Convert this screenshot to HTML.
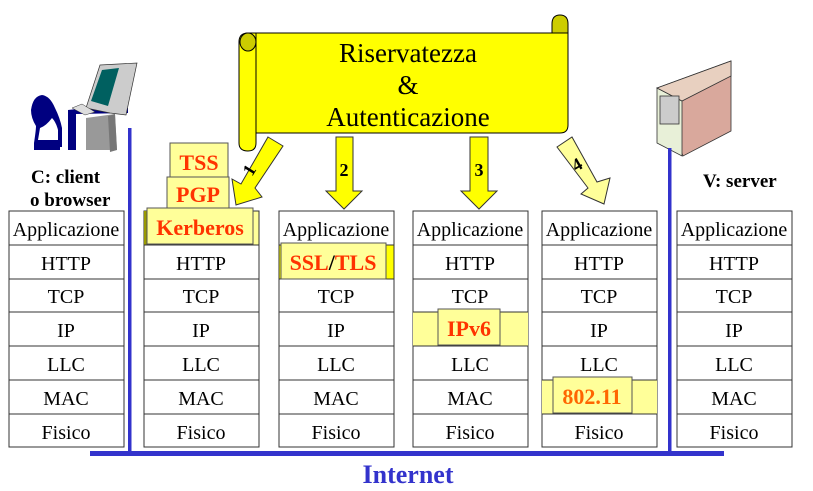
<!DOCTYPE html>
<html><head><meta charset="utf-8"><style>
html,body{margin:0;padding:0;background:#fff;}
svg{display:block;}
text{font-family:"Liberation Serif",serif;}
</style></head><body>
<svg width="813" height="491" viewBox="0 0 813 491" xmlns="http://www.w3.org/2000/svg">
<!-- scroll -->
<path d="M256,33 H568 V125 Q568,133 560,133 H256 Z" fill="#ffff00" stroke="#000" stroke-width="1"/>
<path d="M248,33 H256 V143 Q256,151 248,151 Q239,151 239,143 V42 Q239,33 248,33 Z" fill="#ffff00" stroke="#000" stroke-width="1"/>
<ellipse cx="248" cy="42" rx="8" ry="9" fill="#cccc00" stroke="#000" stroke-width="1"/>
<path d="M552,33 V24 Q552,15 560,15 Q568,15 568,24 V33 Z" fill="#cccc00" stroke="#000" stroke-width="1"/>
<text x="408" y="62" font-size="27" text-anchor="middle">Riservatezza</text>
<text x="408" y="94" font-size="27" text-anchor="middle">&amp;</text>
<text x="408" y="126" font-size="27" text-anchor="middle">Autenticazione</text>
<!-- arrows -->
<polygon points="268,137 283,146 255,188 262,197 236,205 232,179 241,184" fill="#ffff00" stroke="#333" stroke-width="1"/>
<text x="0" y="0" font-size="18" font-weight="bold" transform="translate(252,177) rotate(-58)">1</text>
<polygon points="336,137 353,137 353,191 362,191 344,209 326,191 336,191" fill="#ffff00" stroke="#333" stroke-width="1"/>
<text x="344" y="176" font-size="18" font-weight="bold" text-anchor="middle">2</text>
<polygon points="470,137 488,137 488,191 497,191 479,209 461,191 470,191" fill="#ffff00" stroke="#333" stroke-width="1"/>
<text x="479" y="176" font-size="18" font-weight="bold" text-anchor="middle">3</text>
<polygon points="557,147 572,137 597,182 610,178 604,204 581,194 588,188" fill="#ffff99" stroke="#333" stroke-width="1"/>
<text x="0" y="0" font-size="18" font-weight="bold" transform="translate(576,172) rotate(-30)">4</text>

<!-- client icon -->
<g>
<path d="M31,110 Q33,96 42,95 Q50,96 55,108 Q60,118 62,128 L62,147 L58,147 L58,130 Q56,122 52,118 Q46,126 40,128 L38,140 L60,140 L60,150 L34,150 L34,143 Q36,130 36,126 Q31,118 31,110 Z" fill="#000080"/>
<path d="M68,110 L95,107 L128,108 L128,113 L76,114 V150 H68 Z" fill="#000080"/>
<polygon points="86,118 115,114 117,150 86,150" fill="#999"/>
<polygon points="115,114 117,150 110,152 108,116" fill="#777"/>
<polygon points="100,65 137,63 126,115 110,113 86,108" fill="#ccc" stroke="#333" stroke-width="0.7"/>
<polygon points="102,70 119,68 108,106 91,101" fill="#006060"/>
<polygon points="72,108 82,104 95,112 85,115" fill="#ddd" stroke="#333" stroke-width="0.5"/>
</g>
<text x="31" y="183" font-size="19" font-weight="bold">C: client</text>
<text x="30" y="206" font-size="19" font-weight="bold">o browser</text>
<!-- server icon -->
<g stroke="#333" stroke-width="0.8">
<polygon points="657,88 731,61 731,131 683,156" fill="#d9a89c"/>
<polygon points="657,88 682,101 682,156 657,143" fill="#e8f0d8"/>
<polygon points="657,88 731,61 731,76 682,101" fill="#e8d0c0"/>
<rect x="660" y="96" width="19" height="28" fill="#ccc"/>
</g>
<text x="703" y="187" font-size="19" font-weight="bold">V: server</text>

<!-- network lines -->
<rect x="128" y="128" width="3.5" height="327" fill="#3333cc"/>
<rect x="668" y="148" width="3.5" height="307" fill="#3333cc"/>
<rect x="90" y="451" width="634" height="5" fill="#3333cc"/>
<text x="408" y="483" font-size="26" font-weight="bold" fill="#3333cc" text-anchor="middle">Internet</text>

<g fill="#fff" stroke="#333" stroke-width="1">
<rect x="9" y="211" width="115" height="236"/>
<rect x="144" y="211" width="115" height="236"/>
<rect x="279" y="211" width="115" height="236"/>
<rect x="413" y="211" width="115" height="236"/>
<rect x="542" y="211" width="115" height="236"/>
<rect x="677" y="211" width="115" height="236"/>
</g>
<!-- highlighted rows -->
<rect x="144" y="211" width="115" height="34" fill="#ffff99" stroke="#333"/>
<rect x="144" y="211" width="4" height="34" fill="#999900"/>
<rect x="279" y="245" width="115" height="34" fill="#ffff00" stroke="#333"/>
<rect x="413" y="312" width="115" height="34" fill="#ffff99"/>
<rect x="542" y="380" width="115" height="34" fill="#ffff99"/>
<g stroke="#333" stroke-width="1">
<path d="M9,245H124M9,279H124M9,312H124M9,346H124M9,380H124M9,414H124"/>
<path d="M144,245H259M144,279H259M144,312H259M144,346H259M144,380H259M144,414H259"/>
<path d="M279,245H394M279,279H394M279,312H394M279,346H394M279,380H394M279,414H394"/>
<path d="M413,245H528M413,279H528M413,312H528M413,346H528M413,380H528M413,414H528"/>
<path d="M542,245H657M542,279H657M542,312H657M542,346H657M542,380H657M542,414H657"/>
<path d="M677,245H792M677,279H792M677,312H792M677,346H792M677,380H792M677,414H792"/>
</g>
<g font-size="20" text-anchor="middle">
<text x="66" y="236">Applicazione</text><text x="66" y="270">HTTP</text><text x="66" y="303">TCP</text><text x="66" y="337">IP</text><text x="66" y="371">LLC</text><text x="66" y="405">MAC</text><text x="66" y="439">Fisico</text>
<text x="201" y="270">HTTP</text><text x="201" y="303">TCP</text><text x="201" y="337">IP</text><text x="201" y="371">LLC</text><text x="201" y="405">MAC</text><text x="201" y="439">Fisico</text>
<text x="336" y="236">Applicazione</text><text x="336" y="303">TCP</text><text x="336" y="337">IP</text><text x="336" y="371">LLC</text><text x="336" y="405">MAC</text><text x="336" y="439">Fisico</text>
<text x="470" y="236">Applicazione</text><text x="470" y="270">HTTP</text><text x="470" y="303">TCP</text><text x="470" y="371">LLC</text><text x="470" y="405">MAC</text><text x="470" y="439">Fisico</text>
<text x="599" y="236">Applicazione</text><text x="599" y="270">HTTP</text><text x="599" y="303">TCP</text><text x="599" y="337">IP</text><text x="599" y="371">LLC</text><text x="599" y="439">Fisico</text>
<text x="734" y="236">Applicazione</text><text x="734" y="270">HTTP</text><text x="734" y="303">TCP</text><text x="734" y="337">IP</text><text x="734" y="371">LLC</text><text x="734" y="405">MAC</text><text x="734" y="439">Fisico</text>
</g>
<!-- protocol boxes -->
<g fill="#ffff99" stroke="#555" stroke-width="1">
<rect x="170" y="143" width="58" height="36"/>
<rect x="167" y="177" width="62" height="34"/>
<rect x="147" y="208" width="106" height="36"/>
<rect x="281" y="243" width="105" height="36"/>
<rect x="438" y="309" width="62" height="36"/>
<rect x="553" y="377" width="79" height="36"/>
</g>
<g font-size="22" font-weight="bold" fill="#ff3300" text-anchor="middle">
<text x="199" y="170">TSS</text>
<text x="198" y="202">PGP</text>
<text x="200" y="235">Kerberos</text>
<text x="333" y="270"><tspan>SSL</tspan><tspan fill="#000">/</tspan><tspan>TLS</tspan></text>
<text x="469" y="336">IPv6</text>
<text x="592" y="404" fill="#ff6600">802.11</text>
</g>
</svg>
</body></html>
